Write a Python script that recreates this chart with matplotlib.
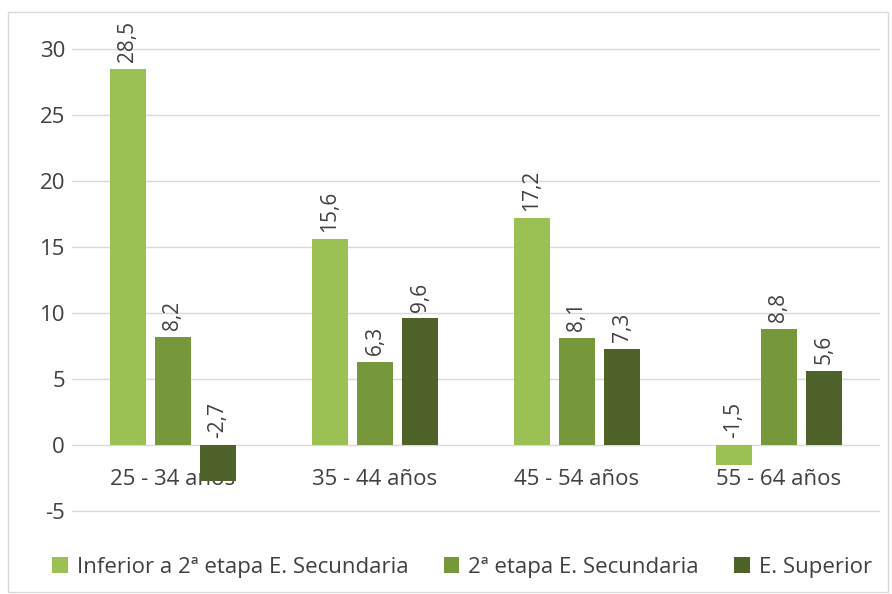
import numpy as np
import matplotlib.pyplot as plt
from matplotlib.patches import Rectangle

plt.rcParams['font.family'] = ['Open Sans', 'DejaVu Sans']
plt.rcParams['axes.unicode_minus'] = False

categories = ['25 - 34 años', '35 - 44 años', '45 - 54 años', '55 - 64 años']
series = ['Inferior a 2ª etapa E. Secundaria', '2ª etapa E. Secundaria', 'E. Superior']
inferior = [28.5, 15.6, 17.2, -1.5]
segunda = [8.2, 6.3, 8.1, 8.8]
superior = [-2.7, 9.6, 7.3, 5.6]
colors = ['#9BC155', '#76983A', '#4F6229']

fig = plt.figure(figsize=(8.92, 5.94), dpi=100)
ax = fig.add_axes([72 / 892, 1 - 517.6 / 594, 808 / 892, 495 / 594])

# light frame around the chart
fig.patches.append(Rectangle((8 / 892, 2 / 594), 880 / 892, 580 / 594,
                             transform=fig.transFigure, fill=False,
                             edgecolor='#D9D9D9', linewidth=1))

x = np.arange(len(categories))
width = 0.178
offset = 0.223
for i, (vals, name) in enumerate(zip([inferior, segunda, superior], series)):
    pos = x + (i - 1) * offset
    ax.bar(pos, vals, width, color=colors[i], label=name, zorder=2)
    for p, v in zip(pos, vals):
        txt = f'{v:.1f}'.replace('.', ',')
        ax.text(p, max(v, 0) + 0.5, txt, rotation=90, ha='center', va='bottom',
                fontsize=15, color='#404040', zorder=3)

ax.set_xlim(-0.5, 3.5)
ax.set_ylim(-5.5, 32)
ax.set_yticks(np.arange(-5, 31, 5))
ax.yaxis.grid(True, color='#D9D9D9', linewidth=1, zorder=0)
ax.set_axisbelow(True)
for s in ax.spines.values():
    s.set_visible(False)
ax.spines['bottom'].set_position(('data', 0))
ax.tick_params(axis='both', length=0, labelsize=16, colors='#404040')
ax.tick_params(axis='y', pad=5)
ax.tick_params(axis='x', pad=17)
ax.set_xticks(x)
ax.set_xticklabels(categories)

ax.legend(loc='center', bbox_to_anchor=(462 / 892, 1 - 567 / 594), bbox_transform=fig.transFigure,
          ncol=3, frameon=False, fontsize=16, labelcolor='#404040',
          handlelength=0.7, handleheight=0.7, handletextpad=0.4, columnspacing=1.6)

plt.savefig('out.png', dpi=100)
